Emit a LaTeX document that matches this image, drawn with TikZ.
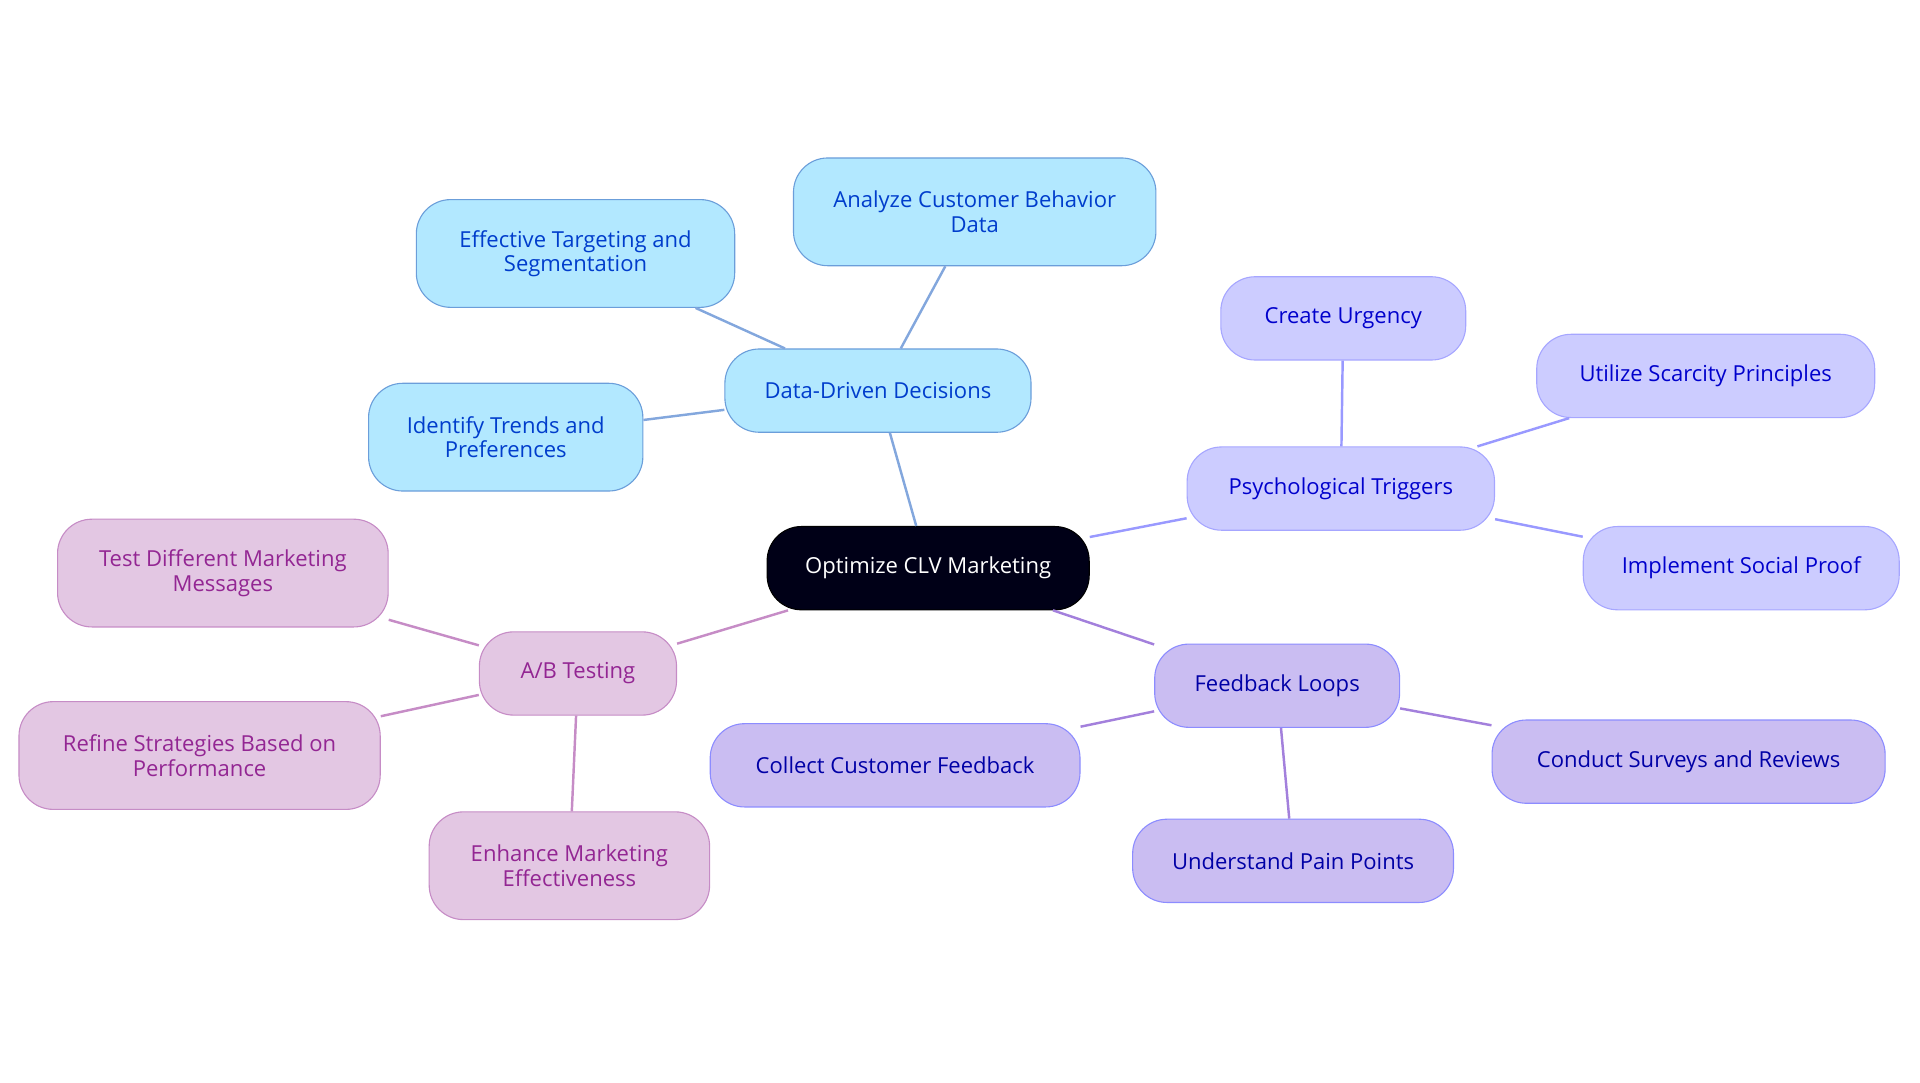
\documentclass[tikz,border=0pt]{standalone}
\usepackage{fontspec}
\setmainfont{Open Sans}
\begin{document}
\begin{tikzpicture}[x=1pt,y=-1pt,
  base/.style={draw,rounded corners=28pt,line width=0.9pt,align=center,inner sep=0pt,font=\fontsize{18}{20}\selectfont},
  root/.style={base,fill=black!85!blue!60!black,draw=black,text=white},
  dd/.style={base,fill=blue!30!cyan!30,draw=cyan!55!blue!60,text=blue!70!cyan!80!black},
  ps/.style={base,fill=blue!20!white,draw=blue!35,text=blue!80!black},
  fb/.style={base,fill=blue!22!white!95!red,draw=blue!45,text=blue!65!black},
  ab/.style={base,fill=violet!22!white,draw=violet!45,text=violet!85!white},
  edd/.style={line width=2pt,draw=cyan!50!blue!50},
  eps/.style={line width=2pt,draw=blue!40},
  efb/.style={line width=2pt,draw=blue!45!violet!50},
  eab/.style={line width=2pt,draw=violet!45},
]
\useasboundingbox (0,0) rectangle (1568,884);
\def\nd#1#2#3#4#5#6#7{\node[#1,minimum width=#5,minimum height=#6] (#2) at (#3,#4) {#7};}
\nd{root}{r}{758}{464}{263}{68}{Optimize CLV Marketing}
\nd{dd}{d}{717}{319}{250}{68}{Data-Driven Decisions}
\nd{dd}{d1}{470}{207}{260}{88}{Effective Targeting and\\Segmentation}
\nd{dd}{d2}{796}{173}{296}{88}{Analyze Customer Behavior\\Data}
\nd{dd}{d3}{413}{357}{224}{88}{Identify Trends and\\Preferences}
\nd{ps}{p}{1095}{399}{251}{68}{Psychological Triggers}
\nd{ps}{p1}{1097}{260}{200}{68}{Create Urgency}
\nd{ps}{p2}{1393}{307}{276}{68}{Utilize Scarcity Principles}
\nd{ps}{p3}{1422}{464}{258}{68}{Implement Social Proof}
\nd{fb}{f}{1043}{560}{200}{68}{Feedback Loops}
\nd{fb}{f1}{731}{625}{302}{68}{Collect Customer Feedback}
\nd{fb}{f2}{1056}{703}{262}{68}{Understand Pain Points}
\nd{fb}{f3}{1379}{622}{321}{68}{Conduct Surveys and Reviews}
\nd{ab}{a}{472}{550}{161}{68}{A/B Testing}
\nd{ab}{a1}{182}{468}{270}{88}{Test Different Marketing\\Messages}
\nd{ab}{a2}{163}{617}{295}{88}{Refine Strategies Based on\\Performance}
\nd{ab}{a3}{465}{707}{229}{88}{Enhance Marketing\\Effectiveness}
\begin{scope}[on background layer/.style={}]
\end{scope}
\path[edd] (r) -- (d) (d) -- (d1) (d) -- (d2) (d) -- (d3);
\path[eps] (r) -- (p) (p) -- (p1) (p) -- (p2) (p) -- (p3);
\path[efb] (r) -- (f) (f) -- (f1) (f) -- (f2) (f) -- (f3);
\path[eab] (r) -- (a) (a) -- (a1) (a) -- (a2) (a) -- (a3);
\end{tikzpicture}
\end{document}
